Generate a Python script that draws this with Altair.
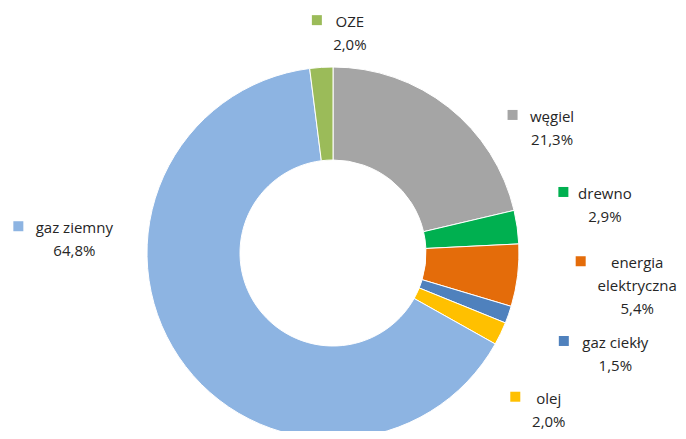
import math
import altair as alt
import pandas as pd

# ---- data ----
categories = ["węgiel", "drewno", "energia elektryczna", "gaz ciekły", "olej", "gaz ziemny", "OZE"]
values = [21.3, 2.9, 5.4, 1.5, 2.0, 64.8, 2.0]
name_lines = ["węgiel", "drewno", "energia\nelektryczna", "gaz ciekły", "olej", "gaz ziemny", "OZE"]
pct_labels = ["21,3%", "2,9%", "5,4%", "1,5%", "2,0%", "64,8%", "2,0%"]
colors = ["#A5A5A5", "#00B050", "#E46C0A", "#4F81BD", "#FFC000", "#8DB4E2", "#9BBB59"]

# ---- label layout (Excel-style placement relative to slice mid-angle) ----
label_nudge_deg = [22.0, -1.9, -0.7, 0.4, 10.4, 36.9, 8.0]
label_radius = [252, 276, 306, 300, 267, 259, 220]
label_widest = [47, 51, 81, 71, 35, 80, 34]

CX, CY = 325, 245
R_OUT, R_IN = 186, 93
LINE_H = 23

total = sum(values)
rows, lab_rows = [], []
cum = 0.0
for i, (c, v) in enumerate(zip(categories, values)):
    mid = (cum + v / 2) / total * 360.0
    cum += v
    rows.append({"cat": c, "val": v, "ord": i})
    a = math.radians(mid + label_nudge_deg[i])
    lx = CX + label_radius[i] * math.sin(a)
    ly = CY - label_radius[i] * math.cos(a)
    text = name_lines[i] + "\n" + pct_labels[i]
    n = text.count("\n") + 1
    line1_y = ly - (n - 1) / 2 * LINE_H
    lab_rows.append({
        "cat": c, "text": text, "lx": lx, "ly": line1_y,
        "sx": lx - label_widest[i] / 2 - 16, "sy": line1_y - 2,
    })

df = pd.DataFrame(rows)
lab = pd.DataFrame(lab_rows)

color_scale = alt.Scale(domain=categories, range=colors)

arcs = alt.Chart(df).mark_arc(
    outerRadius=R_OUT, innerRadius=R_IN, stroke="white", strokeWidth=1
).encode(
    theta=alt.Theta("val:Q", stack=True),
    order=alt.Order("ord:Q", sort="ascending"),
    color=alt.Color("cat:N", scale=color_scale, legend=None),
    x=alt.value(CX),
    y=alt.value(CY),
)

texts = alt.Chart(lab).mark_text(
    align="center", baseline="middle", lineBreak="\n", lineHeight=LINE_H,
    font="Open Sans", fontSize=15, color="#262626",
).encode(
    x=alt.X("lx:Q", scale=None, axis=None),
    y=alt.Y("ly:Q", scale=None, axis=None),
    text="text:N",
)

squares = alt.Chart(lab).mark_square(size=100, opacity=1, filled=True).encode(
    x=alt.X("sx:Q", scale=None, axis=None),
    y=alt.Y("sy:Q", scale=None, axis=None),
    color=alt.Color("cat:N", scale=color_scale, legend=None),
)

chart = alt.layer(arcs, squares, texts).properties(
    width=670, height=423, padding=0, autosize="none", background="white"
).configure_view(stroke=None)

chart.save("out.html", embed_options={"renderer": "svg", "actions": False})
